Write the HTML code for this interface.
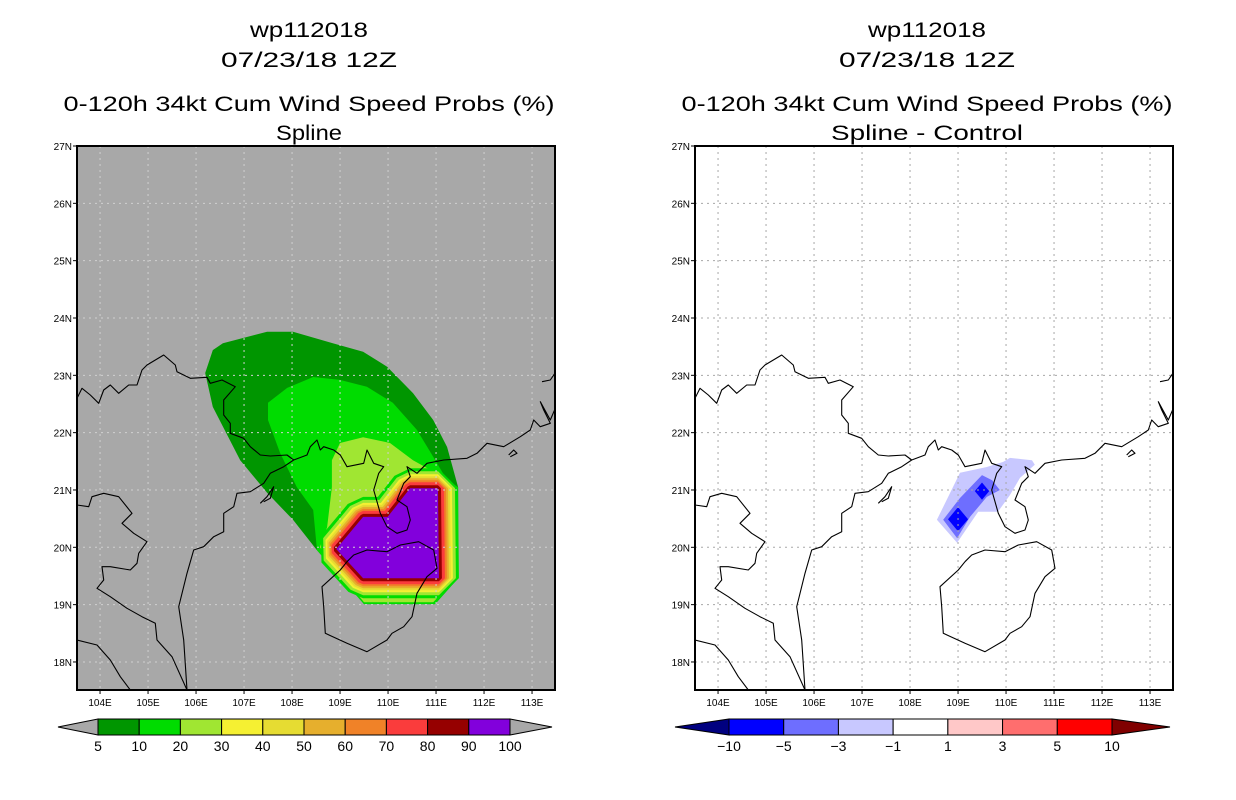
<!DOCTYPE html>
<html><head><meta charset="utf-8"><style>
html,body{margin:0;padding:0;background:#fff}
svg{display:block;font-family:"Liberation Sans",sans-serif}
</style></head><body>
<svg id="s" width="1236" height="800" viewBox="0 0 1236 800" xmlns="http://www.w3.org/2000/svg"></svg>
<script>
// ---- data ----
const lonTicks=[104,105,106,107,108,109,110,111,112,113];
const latTicks=[18,19,20,21,22,23,24,25,26,27];
const probLevels=["5","10","20","30","40","50","60","70","80","90","100"];
const probColors=["#009600","#00dc00","#a0e632","#f5f032","#e6dc32","#e6af2d","#f08228","#fa3c3c","#960000","#8200dc"];
const diffLevels=["-10","-5","-3","-1","1","3","5","10"];
const diffColors=["#0000ff","#6e6eff","#c8c8ff","#ffffff","#ffc8c8","#ff6e6e","#ff0000"];
const p5Lon=[108.52,108.02,107.48,106.92,106.35,106.19,106.35,106.56,107.48,108.02,108.85,109.48,109.98,110.52,110.94,111.23,111.46,111.46,110.98,109.50];
const p5Lat=[19.95,20.48,20.95,21.52,22.45,23.04,23.44,23.56,23.76,23.76,23.56,23.41,23.15,22.69,22.22,21.75,21.05,19.46,19.01,19.01];
const p10Lon=[108.52,108.44,108.10,107.75,107.50,107.50,107.90,108.44,109.0,109.56,110.10,110.60,110.94,111.23,111.46,111.46,110.98,109.50];
const p10Lat=[19.95,20.65,21.05,21.65,22.22,22.52,22.78,22.97,22.92,22.80,22.52,22.05,21.58,21.17,21.05,19.46,19.01,19.01];
const p20Lon=[108.58,108.73,108.83,108.83,109.0,109.48,110.04,110.52,110.88,111.29,111.40,111.40,110.94,109.50];
const p20Lat=[20.0,20.35,21.05,21.52,21.82,21.92,21.82,21.52,21.35,21.17,21.0,19.46,19.04,19.04];
const coreLon=[108.92,109.48,109.99,110.46,111.04,111.06,109.48];
const coreLat=[19.97,20.53,20.53,21.03,21.03,19.46,19.46];
const ringOffsets=[20,17,14,12,10,8,6,3];
const d1Lon=[108.56,109.04,109.60,109.94,110.08,110.54,110.60,110.29,110.08,109.83,109.42,108.98];
const d1Lat=[20.48,21.30,21.40,21.49,21.56,21.52,21.44,21.21,20.91,20.62,20.62,20.08];
const d2Lon=[108.69,109.04,109.50,109.71,109.87,109.60,109.25,108.98];
const d2Lat=[20.48,20.86,21.26,21.17,21.0,20.88,20.53,20.16];
const d3CenterLon=[109.0,109.5];
const d3CenterLat=[20.49,20.98];
const d3Half=[0.21,0.15];

// ---- map geometry (coastlines, in reference-zoom coords) ----
const coasts=[
[[0,175],[15,145],[40,165],[65,190],[80,150],[100,135],[125,160],[155,135],[180,135],[195,90],[210,75],[260,45],[295,75],[300,95],[340,115],[390,112],[400,130],[435,120],[475,140],[440,180],[440,225],[460,250],[460,280],[500,295],[520,320],[550,345],[580,348],[630,345],[650,360]],
[[330,1050],[320,900],[305,800],[330,700],[350,630],[380,620],[410,590],[440,575],[440,520],[470,500],[480,460],[520,455],[560,430],[580,400],[620,380],[650,360],[690,345],[700,320],[720,300],[730,330],[740,320],[770,330],[790,345],[810,380],[860,370],[870,330],[890,370],[920,380],[905,400],[890,450],[910,520],[930,560],[960,580],[990,570],[1000,540],[990,500],[960,480],[980,430],[1000,410],[990,380],[1020,400],[1050,370],[1100,360],[1170,355],[1200,340],[1230,310],[1280,320],[1330,290],[1360,270],[1370,240],[1390,260],[1420,250],[1400,210],[1390,185],[1420,240],[1437,200]],
[[810,665],[830,645],[870,630],[930,635],[970,615],[1025,605],[1070,630],[1080,685],[1050,710],[1020,760],[1005,830],[980,860],[945,880],[930,900],[870,935],[810,910],[745,880],[740,800],[735,740],[790,690],[810,665]],
[[0,495],[35,500],[45,470],[80,460],[125,470],[165,520],[135,550],[170,580],[210,605],[185,640],[180,670],[160,690],[100,680],[75,680],[80,720],[60,745],[100,770],[150,805],[195,830],[235,850],[240,900],[285,950],[330,1050]],
[[0,900],[60,915],[100,960],[130,1010],[160,1050]],
[[1395,125],[1420,120],[1437,95]],
[[1295,345],[1310,330],[1320,340],[1300,350]],
[[550,490],[570,470],[590,440],[580,475],[560,485]]
];

const NS="http://www.w3.org/2000/svg";
const svg=document.getElementById('s');
function mk(tag,attrs,parent){const e=document.createElementNS(NS,tag);for(const k in attrs)e.setAttribute(k,attrs[k]);(parent||svg).appendChild(e);return e;}
const T=146,B=690,W=478;
function xS(L,lon){return L+(lon-103.52)*48;}
function yS(lat){return T+(27-lat)*57.33;}
function pts(L,lons,lats){return lons.map((v,i)=>xS(L,v).toFixed(1)+','+yS(lats[i]).toFixed(1)).join(' ');}

function panel(L,name,bg,grid,sub){
  const g=mk('g',{});
  
  
  const clipId='c'+L;
  const cp=mk('clipPath',{id:clipId},g);mk('rect',{x:L,y:T,width:W,height:B-T},cp);
  const bgR=mk('rect',{x:L,y:T,width:W,height:B-T,fill:bg},g);
  
  
  const cg=mk('g',{'clip-path':'url(#'+clipId+')'},g);
  
  
  const gl=mk('g',{},g);
  
  
  lonTicks.forEach(v=>{mk('line',{x1:xS(L,v),x2:xS(L,v),y1:T,y2:B,stroke:grid,'stroke-width':1,'stroke-dasharray':'2,4'},gl);});
  latTicks.forEach(v=>{if(v<27)mk('line',{x1:L,x2:L+W,y1:yS(v),y2:yS(v),stroke:grid,'stroke-width':1,'stroke-dasharray':'2,4'},gl);});
  const co=mk('g',{'clip-path':'url(#'+clipId+')',fill:'none',stroke:'#000','stroke-width':1.1,'stroke-linejoin':'round'},g);
  
  
  coasts.forEach(c=>{mk('polyline',{points:c.map(p=>(p[0]/3+L).toFixed(1)+','+(p[1]/3+340).toFixed(1)).join(' ')},co);});
  const fr=mk('rect',{x:L,y:T,width:W,height:B-T,fill:'none',stroke:'#000','stroke-width':2},g);
  
  
  const ax=mk('g',{'font-size':10,fill:'#000'},g);
  
  
  latTicks.forEach(v=>{const y=yS(v);mk('line',{x1:L-4,x2:L,y1:y,y2:y,stroke:'#000'},ax);const t=mk('text',{x:L-5,y:y+4,'text-anchor':'end'},ax);t.textContent=v+'N';});
  lonTicks.forEach(v=>{const x=xS(L,v);mk('line',{x1:x,x2:x,y1:B,y2:B+4,stroke:'#000'},ax);const t=mk('text',{x:x,y:B+16,'text-anchor':'middle'},ax);t.textContent=v+'E';});
  const cx=L+232;
  const tt=[['wp112018',30,118,'title-storm-id'],['07/23/18 12Z',60,176,'title-date'],['0-120h 34kt Cum Wind Speed Probs (%)',104,491,'title-product'],[sub,133,sub.length>8?192:66,'subtitle']];
  tt.forEach(a=>{const t=mk('text',{x:cx,y:a[1]+7,'text-anchor':'middle','font-size':21,textLength:a[2],lengthAdjust:'spacingAndGlyphs'},g);t.textContent=a[0];});
  return cg;
}

// Left panel
const cgL=panel(77,'probability-map-spline','#a8a8a8','#d0d0d0','Spline');
const L1=77;
let e=mk('polygon',{points:pts(L1,p5Lon,p5Lat),fill:probColors[0]},cgL);

e=mk('polygon',{points:pts(L1,p10Lon,p10Lat),fill:probColors[1]},cgL);

e=mk('polygon',{points:pts(L1,p20Lon,p20Lat),fill:probColors[2]},cgL);

ringOffsets.forEach((o,i)=>{
  const r=mk('polygon',{points:pts(L1,coreLon,coreLat),fill:probColors[i+1],stroke:probColors[i+1],'stroke-width':2*o,'stroke-linejoin':'bevel'},cgL);
  
  
});
e=mk('polygon',{points:pts(L1,coreLon,coreLat),fill:probColors[9]},cgL);


// Right panel
const cgR=panel(695,'difference-map-spline-control','#ffffff','#a8a8a8','Spline - Control');
const L2=695;
e=mk('polygon',{points:pts(L2,d1Lon,d1Lat),fill:diffColors[2]},cgR);

e=mk('polygon',{points:pts(L2,d2Lon,d2Lat),fill:diffColors[1]},cgR);

d3CenterLon.forEach((lo,i)=>{
  const la=d3CenterLat[i],h=d3Half[i];
  const d=mk('polygon',{points:pts(L2,[lo-h,lo,lo+h,lo],[la,la+h,la,la-h]),fill:diffColors[0]},cgR);
  
  
});

// Colorbars
function colorbar(x0,x1,tipL,tipR,cols,labs,lc,rc,name){
  const g=mk('g',{});
  
  
  const y0=719,y1=735,ym=727,n=cols.length,w=(x1-x0)/n;
  mk('polygon',{points:`${tipL},${ym} ${x0},${y0} ${x0},${y1}`,fill:lc,stroke:'#000','stroke-width':1},g);
  mk('polygon',{points:`${tipR},${ym} ${x1},${y0} ${x1},${y1}`,fill:rc,stroke:'#000','stroke-width':1},g);
  cols.forEach((c,i)=>{const r=mk('rect',{x:x0+i*w,y:y0,width:w,height:y1-y0,fill:c,stroke:'#000','stroke-width':1},g);});
  labs.forEach((l,i)=>{const t=mk('text',{x:x0+i*w,y:751,'text-anchor':'middle','font-size':14},g);t.textContent=l.replace('-','\u2212');});
}
colorbar(98,510,58,552,probColors,probLevels,'#a8a8a8','#a8a8a8','colorbar-probability');
colorbar(729,1112,675,1170,diffColors,diffLevels,'#000080','#800000','colorbar-difference');
</script>
</body></html>
